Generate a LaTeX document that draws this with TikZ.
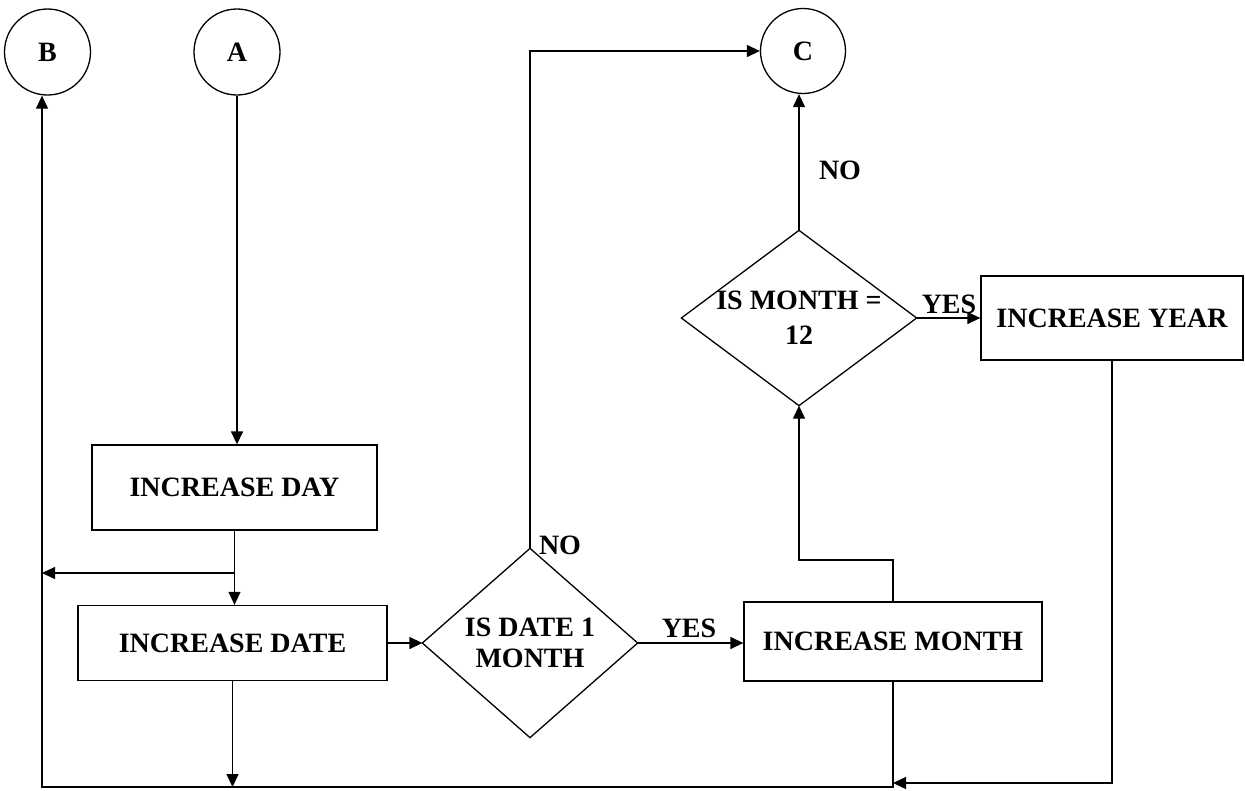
\documentclass[tikz,border=0pt]{standalone}
\usepackage{fontspec}
\setmainfont{Liberation Serif}
\usetikzlibrary{arrows.meta}
\begin{document}
\begin{tikzpicture}[x=1pt,y=-1pt,line width=1.3pt,
  txt/.style={font=\fontsize{28}{32}\selectfont\bfseries},
  box/.style={txt,draw,rectangle,inner sep=0pt,align=center},
  conn/.style={txt,draw,circle,inner sep=0pt,minimum size=86pt},
  dia/.style={txt,rectangle,inner sep=0pt,align=center},
  lbl/.style={txt,inner sep=0pt},
  arr/.style={-{Triangle[length=13pt,width=12pt]}}]
\useasboundingbox (0,0) rectangle (1245,790);
% connectors (circles)
\node[conn] (B) at (47.5,52) {B};
\node[conn] (A) at (237,52) {A};
\node[conn,minimum size=85pt] (C) at (803,51) {C};
% process boxes
\node[box,minimum width=285pt,minimum height=85pt] (day) at (234.5,487.5) {INCREASE DAY};
\node[box,minimum width=309pt,minimum height=75pt] (date) at (232.5,643) {INCREASE DATE};
\node[box,minimum width=298pt,minimum height=79pt] (month) at (893,641.5) {INCREASE MONTH};
\node[box,minimum width=262pt,minimum height=84pt] (year) at (1112,318) {INCREASE YEAR};
% decisions
\node[dia,font=\fontsize{28}{31}\selectfont\bfseries,minimum width=214pt,minimum height=188pt] (d1) at (530,643) {IS DATE 1\\MONTH};
\draw (d1.north) -- (d1.east) -- (d1.south) -- (d1.west) -- cycle;
\node[dia,font=\fontsize{28}{35}\selectfont\bfseries,minimum width=234pt,minimum height=174pt] (d2) at (799,318) {IS MONTH =\\12};
\draw (d2.north) -- (d2.east) -- (d2.south) -- (d2.west) -- cycle;
% helper levels
\coordinate (h1) at (0,573);
\coordinate (bot) at (42,787);
\coordinate (h2) at (0,783);
\coordinate (h3) at (0,560);
% flow
\draw[arr] (A) -- (A |- day.north);
\draw (day.south) -- (day.south |- h1) coordinate (j1);
\draw[arr] (j1) -- (j1 |- date.north);
\draw[arr] (j1) -- (bot |- h1);
\draw[arr] (date.south) -- (date.south |- bot);
\draw[arr] (month.south) -- (month.south |- bot) -- (bot) -- (B.south -| bot);
\draw[arr] (year.south) -- (year.south |- h2) -- (month.south |- h2);
\draw[arr] (date.east) -- (d1.west);
\draw[arr] (d1.east) -- (d1.east -| month.west);
\draw[arr] (d1.north) |- (C);
\draw[arr] (month.north) -- (month.north |- h3) -| (d2.south);
\draw[arr] (d2.east) -- (year.west);
\draw[arr] (d2.north) -- (d2.north |- C.south);
% labels
\node[lbl] (yes1) at (689,628) {YES};
\node[lbl] (no1) at (560,545) {NO};
\node[lbl] (yes2) at (949,304) {YES};
\node[lbl] (no2) at (840,170) {NO};
\end{tikzpicture}
\end{document}
